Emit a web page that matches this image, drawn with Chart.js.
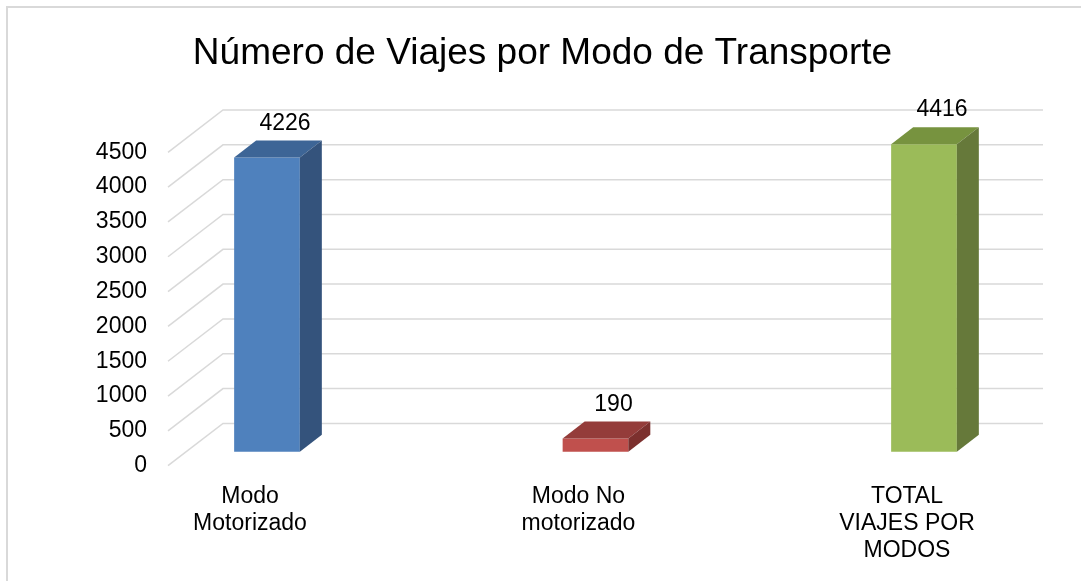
<!DOCTYPE html>
<html>
<head>
<meta charset="utf-8">
<script src="https://cdn.jsdelivr.net/npm/chart.js@4.4.1/dist/chart.umd.min.js"></script>
<style>
  html, body { margin: 0; padding: 0; background: #fff; }
  #wrap { width: 1081px; height: 581px; position: relative; }
</style>
</head>
<body>
<div id="wrap"><canvas id="grafico"></canvas></div>
<script>
// dados do gráfico
const categorias = [['Modo', 'Motorizado'], ['Modo No', 'motorizado'], ['TOTAL', 'VIAJES POR', 'MODOS']];
const viajes = [4226, 190, 4416];
const coresFrente = ['#4f81bd', '#c0504d', '#9bbb59'];
const coresTopo = ['#3d6596', '#943c3a', '#77933f'];
const coresLado = ['#34537c', '#7c302e', '#66793a'];

// deslocamentos da perspectiva 3D (px)
const PAREDE = { dx: 55, dy: -42.3 };  // parede do fundo
const BARRA = { dx: 17, dy: -14 };     // plano das barras
const PROF = { dx: 22, dy: -17 };      // profundidade de cada barra
const FIM_PISO = 2.2466;               // fim do piso no eixo x

const fonte = '"Liberation Sans", Arial, sans-serif';

const efeito3D = {
    id: 'efeito3D',
    beforeDraw(chart) {
        const { ctx } = chart;
        ctx.save();
        ctx.fillStyle = '#fff';
        ctx.fillRect(0, 0, chart.width, chart.height);
        ctx.strokeStyle = '#d9d9d9';
        ctx.lineWidth = 2;
        ctx.strokeRect(7, 7, chart.width + 20, chart.height + 20);
        ctx.restore();
    },
    beforeDatasetsDraw(chart) {
        const { ctx, chartArea: a, scales: { x, y } } = chart;
        const direita = x.getPixelForValue(FIM_PISO);
        ctx.save();
        ctx.strokeStyle = '#d9d9d9';
        ctx.lineWidth = 1.5;
        y.ticks.forEach(t => {
            const py = y.getPixelForValue(t.value);
            ctx.beginPath();
            ctx.moveTo(a.left, py);
            ctx.lineTo(a.left + PAREDE.dx, py + PAREDE.dy);
            ctx.lineTo(direita + PAREDE.dx, py + PAREDE.dy);
            ctx.stroke();
        });
        ctx.restore();
        // barras desenhadas no plano do meio
        ctx.save();
        ctx.translate(BARRA.dx, BARRA.dy);
    },
    afterDatasetsDraw(chart) {
        const { ctx } = chart;
        const meta = chart.getDatasetMeta(0);
        meta.data.forEach((bar, i) => {
            const { x, y, base, width } = bar.getProps(['x', 'y', 'base', 'width'], true);
            const x0 = x - width / 2, x1 = x + width / 2;
            // topo
            ctx.fillStyle = coresTopo[i];
            ctx.beginPath();
            ctx.moveTo(x0, y);
            ctx.lineTo(x1, y);
            ctx.lineTo(x1 + PROF.dx, y + PROF.dy);
            ctx.lineTo(x0 + PROF.dx, y + PROF.dy);
            ctx.closePath();
            ctx.fill();
            // lado
            ctx.fillStyle = coresLado[i];
            ctx.beginPath();
            ctx.moveTo(x1, y);
            ctx.lineTo(x1 + PROF.dx, y + PROF.dy);
            ctx.lineTo(x1 + PROF.dx, base + PROF.dy);
            ctx.lineTo(x1, base);
            ctx.closePath();
            ctx.fill();
            // rótulo do valor
            ctx.fillStyle = '#000';
            ctx.font = '23px ' + fonte;
            ctx.textAlign = 'center';
            ctx.textBaseline = 'middle';
            ctx.fillText(String(viajes[i]), x + 18, y + PROF.dy - 17);
        });
        ctx.restore();
    }
};

new Chart(document.getElementById('grafico'), {
    type: 'bar',
    data: {
        datasets: [{
            label: 'Viajes',
            data: categorias.map((c, i) => ({ x: i, y: viajes[i] })),
            backgroundColor: coresFrente,
            borderWidth: 0,
            barPercentage: 0.2,
            categoryPercentage: 1,
            clip: false
        }]
    },
    options: {
        responsive: true,
        maintainAspectRatio: false,
        animation: false,
        layout: { padding: { left: 4, right: 0, top: 0, bottom: 0 } },
        plugins: {
            legend: { display: false },
            tooltip: { enabled: false },
            title: {
                display: true,
                text: 'Número de Viajes por Modo de Transporte',
                color: '#000',
                font: { family: fonte, size: 37, weight: 'normal' },
                padding: { top: 31.8, bottom: 76.1 }
            }
        },
        scales: {
            x: {
                type: 'linear',
                offset: false,
                min: -0.2496,
                max: 2.5297,
                grid: { display: false, drawTicks: false },
                border: { display: false },
                afterFit: s => { s.height = 115.3; },
                ticks: {
                    stepSize: 1,
                    includeBounds: false,
                    autoSkip: false,
                    maxRotation: 0,
                    padding: 17,
                    color: '#000',
                    font: { family: fonte, size: 23, lineHeight: 1.18 },
                    callback: v => Number.isInteger(v) ? categorias[v] : ''
                }
            },
            y: {
                min: 0,
                max: 4500,
                grid: { display: false, drawTicks: false },
                border: { display: false },
                afterFit: s => { s.width = 164; },
                ticks: {
                    stepSize: 500,
                    padding: 21,
                    color: '#000',
                    font: { family: fonte, size: 23 },
                    callback: v => String(v)
                }
            }
        }
    },
    plugins: [efeito3D]
});
</script>
</body>
</html>
